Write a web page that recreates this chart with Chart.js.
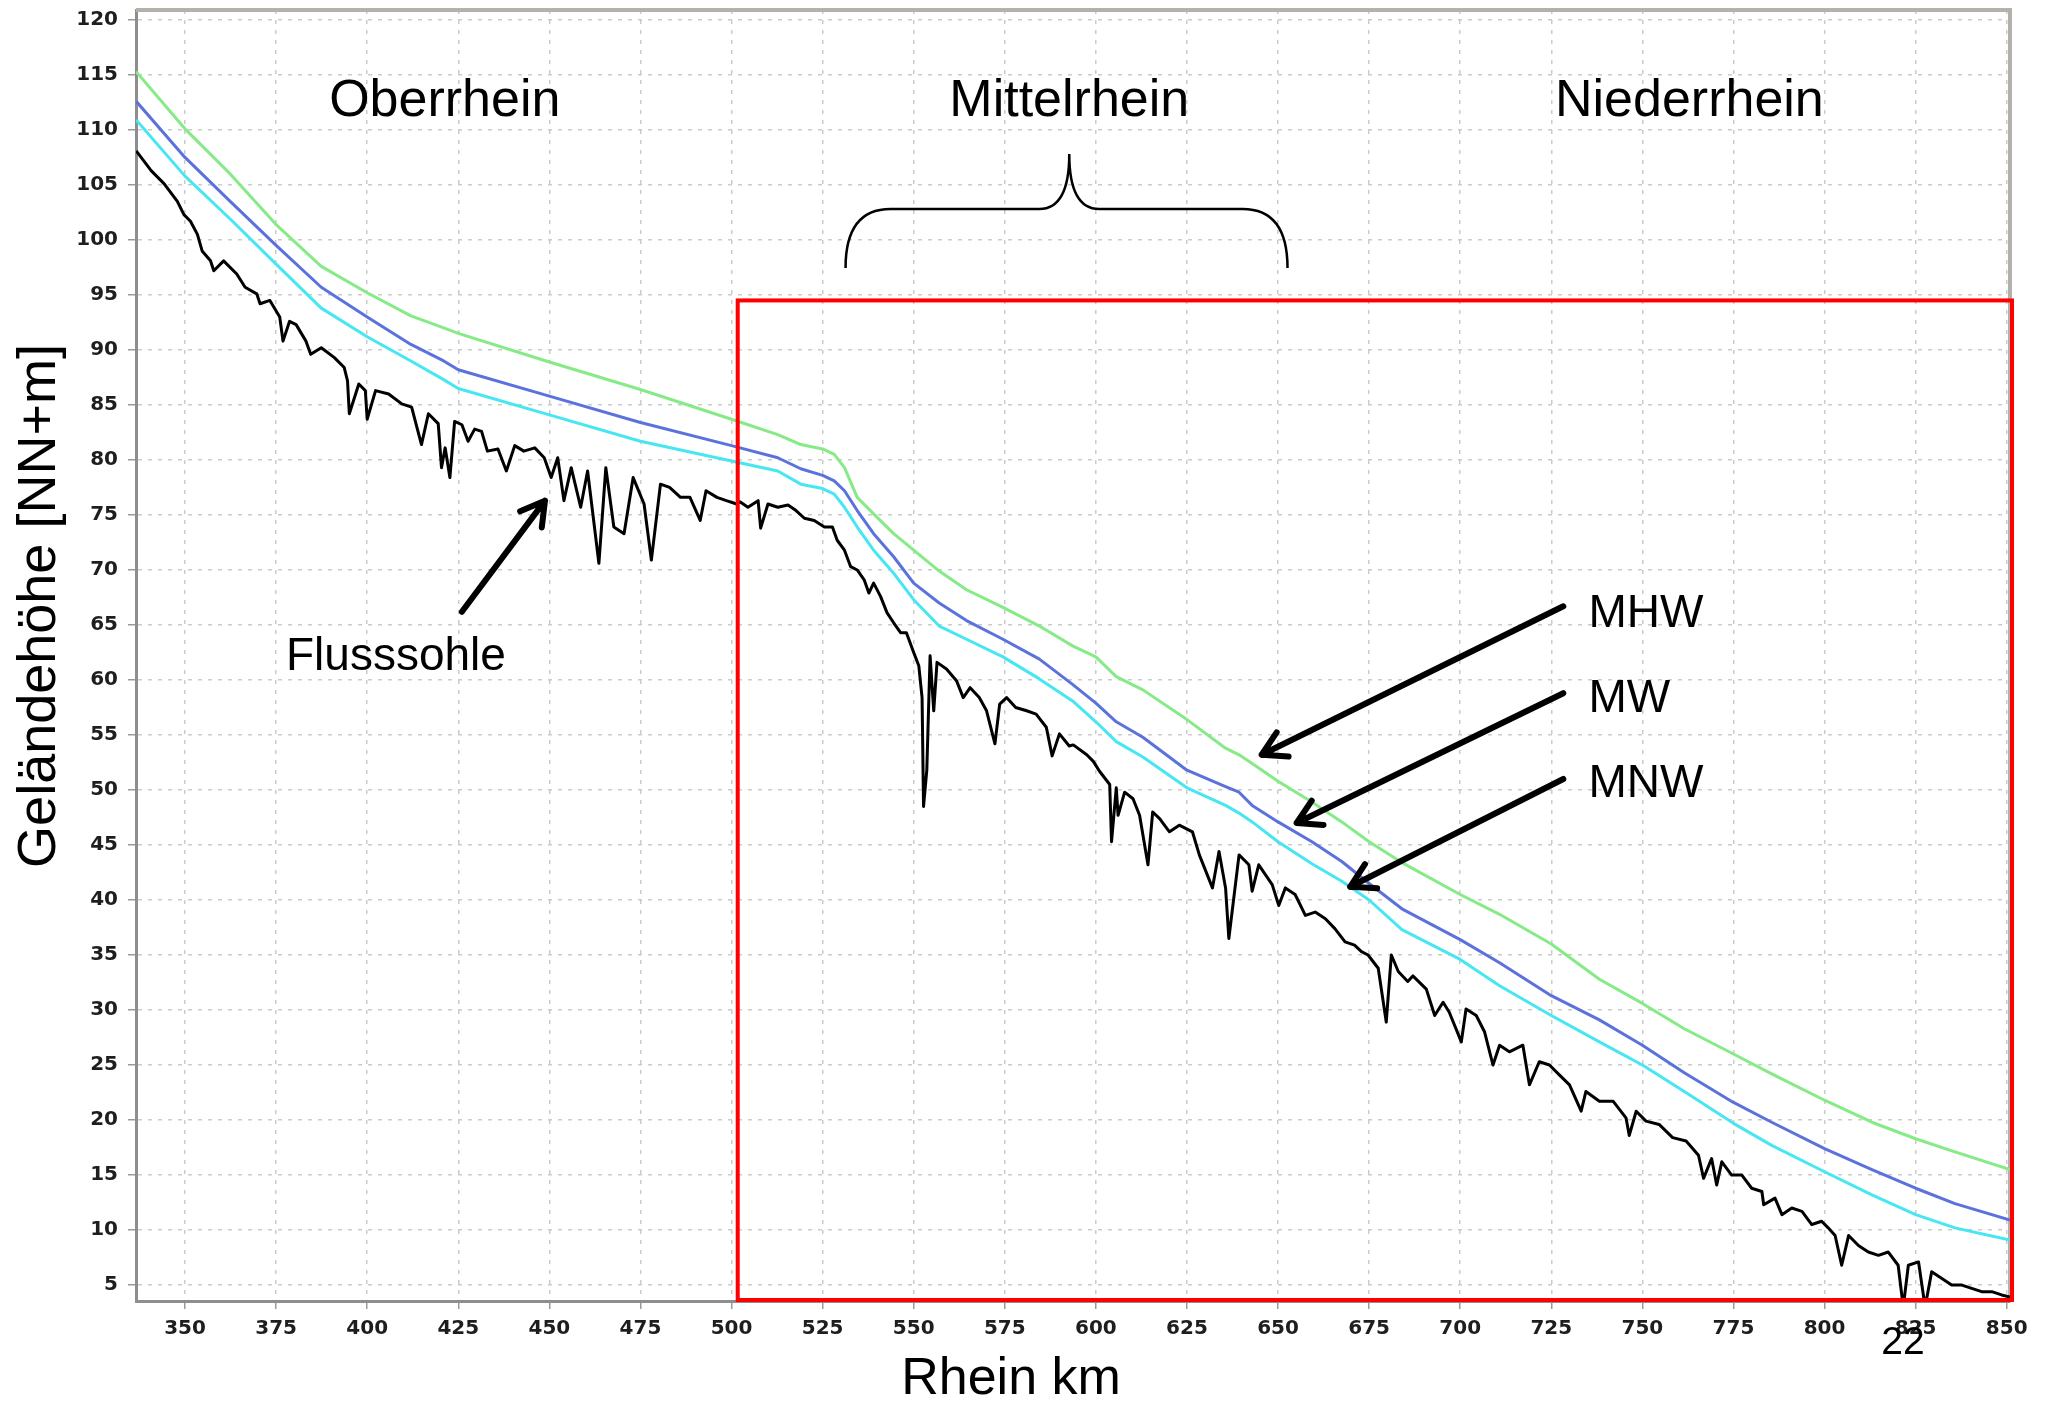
<!DOCTYPE html>
<html>
<head>
<meta charset="utf-8">
<title>Rhein Längsprofil</title>
<script src="https://cdn.jsdelivr.net/npm/chart.js@4.4.1/dist/chart.umd.min.js"></script>
<style>
  html, body { margin: 0; padding: 0; background: #fff; }
  #wrap { width: 2051px; height: 1403px; }
</style>
</head>
<body>
<div id="wrap"><canvas id="profile" width="2051" height="1403"></canvas></div>
<script>
// axis ticks
const kmTicks = [350, 375, 400, 425, 450, 475, 500, 525, 550, 575, 600, 625, 650, 675, 700, 725, 750, 775, 800, 825, 850];
const levelTicks = [5, 10, 15, 20, 25, 30, 35, 40, 45, 50, 55, 60, 65, 70, 75, 80, 85, 90, 95, 100, 105, 110, 115, 120];

// water levels (Rhein km -> NN+m)
const waterKm = [336.6, 350, 362.4, 375, 387.4, 400, 412, 421, 425, 450, 475, 500, 512.7, 519, 525, 528.2, 531, 534.5, 539, 544.5, 550, 557, 564.5, 574.5, 584.5, 593.6, 600, 605.6, 612.9, 625, 635.6, 639.3, 642.9, 650, 659.3, 667.5, 675, 684, 700, 710.8, 725, 738.2, 750, 761.5, 775, 785.5, 800, 813, 825, 835.8, 850.9];
const mhwLevel = [115.3, 110.1, 106.0, 101.4, 97.6, 95.2, 93.1, 92.0, 91.5, 88.9, 86.4, 83.7, 82.3, 81.4, 81.0, 80.5, 79.3, 76.6, 75.1, 73.3, 71.8, 69.9, 68.2, 66.6, 64.9, 63.1, 62.1, 60.3, 59.1, 56.4, 53.8, 53.2, 52.4, 50.8, 48.9, 47.1, 45.3, 43.4, 40.5, 38.7, 36.0, 32.8, 30.6, 28.3, 26.0, 24.2, 21.8, 19.8, 18.3, 17.1, 15.5];
const mwLevel = [112.6, 107.5, 103.5, 99.5, 95.7, 93.0, 90.5, 89.0, 88.2, 85.8, 83.4, 81.3, 80.2, 79.2, 78.6, 78.1, 77.2, 75.4, 73.3, 71.2, 68.8, 67.0, 65.4, 63.7, 61.9, 59.6, 57.9, 56.2, 54.8, 51.8, 50.3, 49.8, 48.6, 47.1, 45.3, 43.5, 41.5, 39.2, 36.4, 34.3, 31.3, 29.1, 26.8, 24.3, 21.6, 19.8, 17.4, 15.5, 13.8, 12.4, 10.9];
const mnwLevel = [110.9, 105.8, 101.9, 97.8, 93.8, 91.2, 89.0, 87.3, 86.5, 84.1, 81.7, 79.9, 79.0, 77.8, 77.4, 76.9, 75.7, 73.9, 71.8, 69.7, 67.3, 64.9, 63.7, 62.1, 60.1, 58.1, 56.2, 54.4, 53.0, 50.2, 48.6, 47.9, 47.1, 45.3, 43.3, 41.7, 40.0, 37.3, 34.6, 32.2, 29.5, 27.1, 25.0, 22.6, 19.7, 17.7, 15.3, 13.2, 11.4, 10.2, 9.1];

// river bed (Flusssohle)
const bedKm = [336.6, 340.7, 344.3, 347.9, 349.7, 351.5, 353.4, 354.7, 357.0, 357.9, 360.6, 364.2, 366.5, 369.7, 370.6, 373.3, 376.0, 376.9, 378.7, 380.5, 383.2, 384.5, 387.4, 391.0, 393.7, 394.6, 395.1, 397.7, 399.5, 400.0, 402.3, 405.9, 409.5, 412.2, 414.9, 416.8, 419.5, 420.4, 421.4, 422.7, 424.0, 426.0, 427.7, 429.5, 431.4, 433.0, 435.9, 438.2, 440.5, 443.0, 446.0, 448.6, 450.5, 452.3, 454.0, 456.0, 458.6, 460.5, 463.6, 465.5, 467.7, 470.5, 473.0, 476.0, 478.0, 480.5, 483.0, 486.0, 488.6, 491.4, 493.0, 496.0, 498.6, 501.4, 502.3, 504.5, 507.3, 508.0, 510.0, 512.7, 515.5, 517.7, 520.0, 522.7, 525.5, 527.7, 529.0, 531.0, 532.7, 534.5, 536.4, 537.7, 539.0, 540.9, 542.7, 544.5, 546.4, 548.0, 550.0, 551.4, 552.3, 552.7, 553.6, 554.5, 555.5, 556.4, 559.0, 561.8, 563.6, 565.5, 568.0, 570.0, 572.3, 573.6, 575.5, 578.0, 581.0, 583.6, 586.4, 588.0, 590.0, 592.7, 593.8, 597.5, 599.3, 601.0, 603.8, 604.3, 605.6, 606.1, 607.9, 610.2, 612.0, 614.3, 615.6, 617.5, 620.2, 622.9, 626.5, 628.4, 630.2, 632.0, 633.8, 635.6, 636.5, 639.3, 642.0, 642.9, 644.7, 648.4, 650.2, 652.0, 654.7, 657.5, 660.2, 663.0, 665.6, 668.4, 671.0, 672.9, 674.7, 677.5, 679.7, 681.1, 683.0, 685.6, 687.0, 690.7, 693.0, 695.3, 697.0, 700.3, 701.6, 704.4, 706.7, 709.0, 710.8, 713.5, 717.2, 719.0, 721.7, 724.5, 727.2, 730.0, 733.2, 734.5, 738.2, 742.0, 745.5, 746.4, 748.3, 751.0, 754.6, 758.3, 762.0, 765.4, 766.8, 769.0, 770.4, 771.8, 774.5, 777.3, 780.0, 782.8, 783.3, 786.4, 788.3, 791.0, 793.8, 796.5, 799.2, 801.0, 802.9, 804.7, 806.6, 809.3, 812.0, 814.8, 817.5, 820.2, 821.6, 823.0, 825.8, 827.6, 829.4, 832.2, 834.9, 837.7, 840.4, 843.1, 845.9, 848.6, 850.9];
const bedLevel = [108.1, 106.3, 105.1, 103.5, 102.3, 101.7, 100.5, 99.0, 98.1, 97.2, 98.1, 96.9, 95.7, 95.1, 94.2, 94.5, 93.0, 90.8, 92.6, 92.3, 90.8, 89.6, 90.2, 89.3, 88.4, 87.2, 84.2, 86.9, 86.3, 83.7, 86.3, 86.0, 85.1, 84.8, 81.4, 84.2, 83.3, 79.3, 81.1, 78.4, 83.5, 83.2, 81.7, 82.8, 82.6, 80.8, 81.0, 79.0, 81.3, 80.8, 81.1, 80.2, 78.4, 80.2, 76.3, 79.3, 75.7, 79.0, 70.6, 79.3, 73.9, 73.3, 78.4, 76.0, 70.9, 77.8, 77.5, 76.6, 76.6, 74.5, 77.2, 76.6, 76.3, 76.0, 76.2, 75.7, 76.3, 73.8, 76.0, 75.7, 75.9, 75.4, 74.7, 74.5, 73.9, 73.9, 72.7, 71.8, 70.3, 70.0, 69.1, 67.9, 68.8, 67.6, 66.1, 65.2, 64.3, 64.3, 62.5, 61.3, 58.4, 48.5, 51.8, 62.2, 57.2, 61.6, 61.0, 59.9, 58.4, 59.3, 58.4, 57.2, 54.2, 57.8, 58.4, 57.5, 57.2, 56.9, 55.7, 53.1, 55.1, 54.0, 54.1, 53.2, 52.6, 51.7, 50.5, 45.3, 50.2, 47.7, 49.8, 49.2, 47.7, 43.2, 48.0, 47.4, 46.2, 46.8, 46.2, 44.1, 42.6, 41.1, 44.4, 41.1, 36.5, 44.1, 43.2, 40.8, 43.2, 41.4, 39.5, 41.1, 40.5, 38.6, 38.9, 38.3, 37.4, 36.2, 35.9, 35.3, 35.0, 33.8, 28.9, 35.0, 33.5, 32.6, 33.1, 31.9, 29.5, 30.7, 29.8, 27.1, 30.1, 29.5, 28.0, 25.0, 26.8, 26.2, 26.8, 23.2, 25.3, 25.0, 24.1, 23.2, 20.8, 22.6, 21.7, 21.7, 20.2, 18.6, 20.8, 19.9, 19.6, 18.4, 18.1, 16.8, 14.7, 16.5, 14.1, 16.2, 15.0, 15.0, 13.8, 13.5, 12.3, 12.9, 11.4, 12.0, 11.7, 10.5, 10.8, 10.2, 9.5, 6.8, 9.5, 8.6, 8.0, 7.7, 8.0, 6.8, 3.0, 6.8, 7.1, 3.0, 6.2, 5.6, 5.0, 5.0, 4.7, 4.4, 4.4, 4.1, 3.9];

const TEXT_FONT = '"Liberation Sans", Arial, sans-serif';
const TICK_FONT = { family: '"DejaVu Sans", Verdana, sans-serif', size: 20, weight: 'bold' };

function toPoints(xs, ys) {
    return xs.map((x, i) => ({ x: x, y: ys[i] }));
}

// keep the plot box fixed: no extra room for half tick labels
function noScalePadding(scale) {
    scale.paddingTop = 0;
    scale.paddingBottom = 0;
    scale.paddingLeft = 0;
    scale.paddingRight = 0;
}

function drawArrow(ctx, x1, y1, x2, y2) {
    const ang = Math.atan2(y2 - y1, x2 - x1);
    const head = 27;
    const spread = Math.PI / 6;
    ctx.beginPath();
    ctx.moveTo(x1, y1);
    ctx.lineTo(x2, y2);
    ctx.moveTo(x2 - head * Math.cos(ang - spread), y2 - head * Math.sin(ang - spread));
    ctx.lineTo(x2, y2);
    ctx.lineTo(x2 - head * Math.cos(ang + spread), y2 - head * Math.sin(ang + spread));
    ctx.stroke();
}

// frame, highlighted section, brace, arrows and all free text
const overlayPlugin = {
    id: 'overlay',
    beforeDatasetsDraw(chart) {
        const { ctx, chartArea } = chart;
        ctx.save();
        ctx.strokeStyle = '#b4b0aa';
        ctx.lineWidth = 4;
        ctx.beginPath();
        ctx.moveTo(chartArea.left, chartArea.top);
        ctx.lineTo(chartArea.right, chartArea.top);
        ctx.lineTo(chartArea.right, chartArea.bottom);
        ctx.stroke();
        ctx.restore();
    },
    afterDraw(chart) {
        const { ctx, chartArea } = chart;
        const xs = chart.scales.x;
        const ys = chart.scales.y;
        const px = v => xs.getPixelForValue(v);
        const py = v => ys.getPixelForValue(v);

        ctx.save();

        // Niederrhein section box
        ctx.strokeStyle = '#ff0000';
        ctx.lineWidth = 4;
        const bx = px(501.7);
        const by = py(94.5);
        ctx.strokeRect(bx, by, chartArea.right + 2 - bx, chartArea.bottom - 1 - by);

        // curly brace over the Mittelrhein
        const l = px(531.3), m = px(592.7), r = px(652.6);
        const yEnd = py(97.45), yMid = py(102.8), yTip = py(107.8);
        ctx.strokeStyle = '#000';
        ctx.lineWidth = 2.5;
        ctx.beginPath();
        ctx.moveTo(l, yEnd);
        ctx.quadraticCurveTo(l, yMid, l + 45, yMid);
        ctx.lineTo(m - 30, yMid);
        ctx.quadraticCurveTo(m, yMid, m, yTip);
        ctx.quadraticCurveTo(m, yMid, m + 30, yMid);
        ctx.lineTo(r - 45, yMid);
        ctx.quadraticCurveTo(r, yMid, r, yEnd);
        ctx.stroke();

        // arrows
        ctx.lineWidth = 6;
        ctx.lineCap = 'round';
        ctx.lineJoin = 'round';
        drawArrow(ctx, px(426.0), py(66.2), px(448.8), py(76.3));
        drawArrow(ctx, px(728.3), py(66.7), px(645.5), py(53.2));
        drawArrow(ctx, px(728.3), py(58.8), px(655.1), py(47.0));
        drawArrow(ctx, px(728.3), py(51.0), px(669.8), py(41.2));

        // section names
        ctx.fillStyle = '#000';
        ctx.textBaseline = 'middle';
        ctx.textAlign = 'center';
        ctx.font = '52px ' + TEXT_FONT;
        ctx.fillText('Oberrhein', px(421.3), py(112.55));
        ctx.fillText('Mittelrhein', px(592.7), py(112.55));
        ctx.fillText('Niederrhein', px(762.9), py(112.55));

        // line labels
        ctx.font = '46px ' + TEXT_FONT;
        ctx.fillText('Flusssohle', px(407.9), py(62.1));
        ctx.textAlign = 'left';
        ctx.fillText('MHW', px(735.2), py(65.95));
        ctx.fillText('MW', px(735.2), py(58.25));
        ctx.fillText('MNW', px(735.2), py(50.55));

        // axis titles
        ctx.textAlign = 'center';
        ctx.font = '52px ' + TEXT_FONT;
        ctx.fillText('Rhein km', 1011, 1380);
        ctx.save();
        ctx.translate(40, 606);
        ctx.rotate(-Math.PI / 2);
        ctx.font = '54px ' + TEXT_FONT;
        ctx.fillText('Geländehöhe [NN+m]', 0, 0);
        ctx.restore();

        // page number
        ctx.font = '39px ' + TEXT_FONT;
        ctx.fillText('22', 1903, 1343);

        ctx.restore();
    }
};

function initializeChart() {
    const canvas = document.getElementById('profile');
    new Chart(canvas, {
        type: 'line',
        data: {
            datasets: [
                { label: 'MHW', data: toPoints(waterKm, mhwLevel), borderColor: '#86ea86', borderWidth: 3 },
                { label: 'MW', data: toPoints(waterKm, mwLevel), borderColor: '#5b72dc', borderWidth: 3 },
                { label: 'MNW', data: toPoints(waterKm, mnwLevel), borderColor: '#46e6f2', borderWidth: 3 },
                { label: 'Flusssohle', data: toPoints(bedKm, bedLevel), borderColor: '#000000', borderWidth: 3 }
            ]
        },
        options: {
            responsive: false,
            devicePixelRatio: 1,
            animation: false,
            layout: { padding: { top: 10, right: 41, left: 0, bottom: 0 } },
            elements: {
                point: { radius: 0, hoverRadius: 0 },
                line: { tension: 0, borderJoinStyle: 'round', fill: false }
            },
            plugins: {
                legend: { display: false },
                tooltip: { enabled: false }
            },
            scales: {
                x: {
                    type: 'linear',
                    min: 336.55,
                    max: 850.9,
                    afterFit: scale => { scale.height = 102; noScalePadding(scale); },
                    afterBuildTicks: scale => { scale.ticks = kmTicks.map(v => ({ value: v })); },
                    ticks: {
                        autoSkip: false,
                        maxRotation: 0,
                        padding: 8,
                        color: '#1e1e1e',
                        font: TICK_FONT
                    },
                    grid: {
                        color: '#cbcbcb',
                        lineWidth: 1.5,
                        tickLength: 8,
                        tickColor: '#9a9a9a',
                        tickWidth: 1.5,
                        tickBorderDash: []
                    },
                    border: { display: true, color: '#8e8e8e', width: 3, dash: [4, 6] }
                },
                y: {
                    type: 'linear',
                    min: 3.55,
                    max: 120.9,
                    afterFit: scale => { scale.width = 136; noScalePadding(scale); },
                    afterBuildTicks: scale => { scale.ticks = levelTicks.map(v => ({ value: v })); },
                    ticks: {
                        autoSkip: false,
                        padding: 10,
                        color: '#1e1e1e',
                        font: TICK_FONT
                    },
                    grid: {
                        color: '#cbcbcb',
                        lineWidth: 1.5,
                        tickLength: 8,
                        tickColor: '#9a9a9a',
                        tickWidth: 1.5,
                        tickBorderDash: []
                    },
                    border: { display: true, color: '#8e8e8e', width: 3, dash: [4, 6] }
                }
            }
        },
        plugins: [overlayPlugin]
    });
}

document.addEventListener('DOMContentLoaded', initializeChart);
</script>
</body>
</html>
